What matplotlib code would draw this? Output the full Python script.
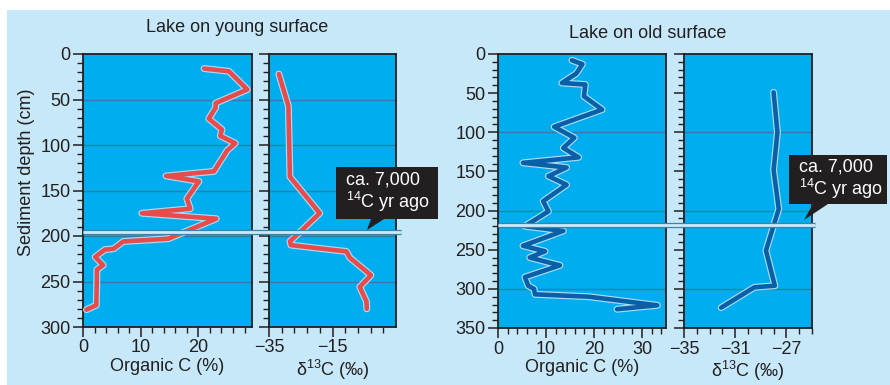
import numpy as np
import matplotlib
matplotlib.use("Agg")
import matplotlib.pyplot as plt
import matplotlib.patheffects as pe
from matplotlib.lines import Line2D
from matplotlib.patches import Rectangle, Polygon
from matplotlib.transforms import blended_transform_factory

plt.rcParams['font.family'] = ['Liberation Sans', 'DejaVu Sans']
plt.rcParams['mathtext.fontset'] = 'custom'
plt.rcParams['mathtext.rm'] = 'Liberation Sans'
plt.rcParams['mathtext.it'] = 'Liberation Sans'

# ---- data ----
# Lake on young surface
young_oc_depth = [16, 19, 39, 54, 59, 71, 83, 90, 98, 106, 129, 134, 140, 159, 170, 175, 181,
                  203, 206, 214, 215, 223, 232, 237, 248, 276, 281]
young_oc = [21.0, 25.3, 28.5, 23.0, 23.0, 21.8, 24.1, 23.8, 26.4, 25.0, 22.7, 14.4, 20.1, 18.0,
            18.6, 10.2, 23.1, 14.8, 7.0, 5.3, 3.8, 2.1, 3.5, 2.4, 2.4, 2.3, 0.6]
young_d13c_depth = [22, 57, 135, 175, 206, 210, 217, 224, 243, 256, 272, 280]
young_d13c = [-31.9, -28.9, -28.4, -19.0, -28.4, -28.1, -10.6, -9.5, -2.9, -6.4, -4.3, -4.2]
young_marker_depth = 196

# Lake on old surface
old_oc_depth = [8, 13, 25, 37, 39, 54, 71, 93, 107, 120, 132, 139, 145, 156, 167, 188, 201,
                220, 226, 245, 252, 260, 270, 285, 296, 300, 307, 310, 321, 326]
old_oc = [15.4, 17.6, 16.3, 13.3, 18.2, 17.9, 21.7, 11.7, 15.9, 13.6, 16.8, 5.2, 14.3, 10.5,
          14.3, 9.4, 10.5, 5.6, 13.6, 5.2, 9.8, 6.6, 12.9, 5.6, 6.3, 7.5, 7.7, 18.9, 33.2, 24.8]
old_d13c_depth = [49, 100, 148, 198, 251, 296, 298, 324]
old_d13c = [-28.0, -27.7, -28.0, -27.6, -28.6, -27.9, -29.5, -32.1]
old_marker_depth = 218

callout_text = "ca. 7,000\n$^{14}$C yr ago"

# ---- styling ----
W, H = 890, 385
outer_bg = '#c6e8f8'
panel_bg = '#00adee'
grid_c = '#2f7ea6'
ink = '#231f20'
red = '#e84b4b'
blue = '#0a60a8'
glow = '#a9dcf3'
fs = 13

fig = plt.figure(figsize=(W / 100, H / 100), dpi=100)
fig.patch.set_facecolor('white')
fig.add_artist(Rectangle((7 / W, 0), 1 - 7 / W, 1 - 10 / H, transform=fig.transFigure,
                         facecolor=outer_bg, edgecolor='none', zorder=-10))


def px_axes(x0, y0, x1, y1):
    return fig.add_axes([x0 / W, 1 - y1 / H, (x1 - x0) / W, (y1 - y0) / H])


def style(ax, ymax, grid_levels, xlim, xmajor, xminor, ylabels):
    ax.set_facecolor(panel_bg)
    ax.set_ylim(ymax, 0)
    ax.set_xlim(*xlim)
    ax.set_yticks(np.arange(0, ymax + 1, 50))
    ax.set_yticks(np.arange(0, ymax + 1, 10), minor=True)
    ax.set_xticks(xmajor)
    ax.set_xticks(xminor, minor=True)
    ax.tick_params(which='major', direction='out', length=7, width=1.1, color=ink,
                   labelsize=fs, labelcolor=ink, pad=2)
    ax.tick_params(which='minor', direction='out', length=4.5, width=1.0, color=ink)
    if not ylabels:
        ax.set_yticklabels([])
    for s in ax.spines.values():
        s.set_color(ink)
        s.set_linewidth(1.3)
    for g in grid_levels:
        ax.axhline(g, color=grid_c, lw=1.0, zorder=1)


def profile(ax, x, d, color):
    ax.plot(x, d, color=color, lw=3.3, solid_joinstyle='round', solid_capstyle='round',
            zorder=3, path_effects=[pe.Stroke(linewidth=5.0, foreground=glow), pe.Normal()])


ax1 = px_axes(83, 54, 252, 327)
ax2 = px_axes(269, 54, 396, 327)
ax3 = px_axes(498, 54, 666, 328)
ax4 = px_axes(684, 54, 812, 328)

style(ax1, 300, [50, 100, 150, 200, 250], (0, 29.3), [0, 10, 20], np.arange(0, 29, 2), True)
style(ax2, 300, [50, 100, 150, 200, 250], (-35, 5), [-35, -15], np.arange(-35, 5, 4), False)
style(ax3, 350, [100, 200, 300], (0, 35), [0, 10, 20, 30], np.arange(0, 35, 2), True)
style(ax4, 350, [100, 200, 300], (-35, -25), [-35, -31, -27], np.arange(-35, -24, 1), False)

profile(ax1, young_oc, young_oc_depth, red)
profile(ax2, young_d13c, young_d13c_depth, red)
profile(ax3, old_oc, old_oc_depth, blue)
profile(ax4, old_d13c, old_d13c_depth, blue)

fig.text(27 / W, 1 - 172 / H, "Sediment depth (cm)", rotation=90, ha='center', va='center',
         fontsize=fs, color=ink)
for ax, lab in [(ax1, "Organic C (%)"), (ax2, "δ$^{13}$C (‰)"),
                (ax3, "Organic C (%)"), (ax4, "δ$^{13}$C (‰)")]:
    ax.set_xlabel(lab, fontsize=fs, color=ink, labelpad=1)

fig.text(237 / W, 1 - 27 / H, "Lake on young surface", ha='center', va='center', fontsize=fs, color=ink)
fig.text(648 / W, 1 - 33 / H, "Lake on old surface", ha='center', va='center', fontsize=fs, color=ink)

# ~7,000 14C yr marker bands across each pair of panels
for ax, depth, x0, x1 in [(ax1, young_marker_depth, 83, 401), (ax3, old_marker_depth, 498, 815)]:
    tr = blended_transform_factory(fig.transFigure, ax.transData)
    band = Line2D([x0 / W, x1 / W], [depth, depth], transform=tr, color='#cdeaf8', lw=2.0,
                  solid_capstyle='butt', zorder=20,
                  path_effects=[pe.Stroke(linewidth=3.8, foreground='#3a84ad', capstyle='butt'),
                                pe.Normal()])
    fig.add_artist(band)


def callout(bx0, by0, bx1, by1, tri, tip):
    fig.add_artist(Rectangle((bx0 / W, 1 - by1 / H), (bx1 - bx0) / W, (by1 - by0) / H,
                             transform=fig.transFigure, facecolor=ink, edgecolor='none', zorder=30))
    fig.add_artist(Polygon([(tri[0] / W, 1 - by1 / H), (tri[1] / W, 1 - by1 / H),
                            (tip[0] / W, 1 - tip[1] / H)], closed=True,
                           transform=fig.transFigure, facecolor=ink, edgecolor='none', zorder=30))
    fig.text((bx0 + 10) / W, 1 - (by0 + by1) / 2 / H, callout_text, ha='left', va='center',
             fontsize=fs, color='white', linespacing=1.05, zorder=31)


callout(336, 167, 438, 219, (371, 384), (367, 230))
callout(789, 155, 887, 204, (813, 828), (804, 220))

fig.savefig("out.png", dpi=100, facecolor=fig.get_facecolor())
